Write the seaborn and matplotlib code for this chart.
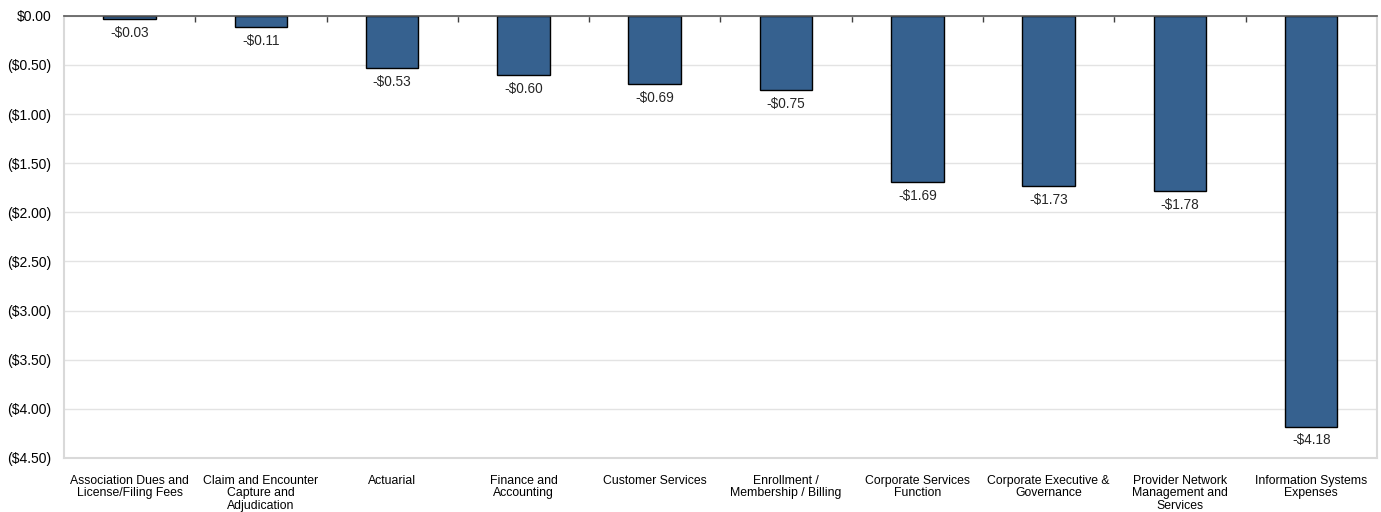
import matplotlib
matplotlib.use("Agg")
import matplotlib.pyplot as plt
from matplotlib.ticker import FixedLocator, FuncFormatter
import seaborn as sns
import pandas as pd

categories = [
    "Association Dues and\nLicense/Filing Fees",
    "Claim and Encounter\nCapture and\nAdjudication",
    "Actuarial",
    "Finance and\nAccounting",
    "Customer Services",
    "Enrollment /\nMembership / Billing",
    "Corporate Services\nFunction",
    "Corporate Executive &\nGovernance",
    "Provider Network\nManagement and\nServices",
    "Information Systems\nExpenses",
]
values = [-0.03, -0.11, -0.53, -0.60, -0.69, -0.75, -1.69, -1.73, -1.78, -4.18]
yticks = [0.0, -0.5, -1.0, -1.5, -2.0, -2.5, -3.0, -3.5, -4.0, -4.5]

sns.set_theme(style="white")
plt.rcParams['font.family'] = ['Liberation Sans', 'DejaVu Sans']

df = pd.DataFrame({"cat": categories, "val": values})
fig = plt.figure(figsize=(13.81, 5.12), dpi=100)
ax = fig.add_axes([0.0463, 0.1055, 0.9507, 0.8635])

sns.barplot(data=df, x="cat", y="val", color="#36618F", saturation=1,
            width=0.4, edgecolor="black", linewidth=1.0, ax=ax, zorder=3)

ax.set_ylim(-4.5, 0)
ax.set_xlim(-0.5, len(categories) - 0.5)
ax.yaxis.set_major_locator(FixedLocator(yticks))

def fmt(v, pos):
    if abs(v) < 1e-9:
        return "$0.00"
    return "(${:.2f})".format(abs(v)) if v < 0 else "${:.2f}".format(v)

ax.yaxis.set_major_formatter(FuncFormatter(fmt))
ax.grid(axis="y", color="#E3E3E3", linewidth=1.0, zorder=0)
ax.set_xlabel("")
ax.set_ylabel("")
ax.tick_params(axis="y", labelsize=10, length=0, pad=9, colors="black")
ax.tick_params(axis="x", which="major", labelsize=8.8, length=0, pad=12, colors="black")
for lbl in ax.get_xticklabels():
    lbl.set_linespacing(1.05)
ax.xaxis.set_minor_locator(FixedLocator([i + 0.5 for i in range(len(categories) - 1)]))
ax.tick_params(axis="x", which="minor", top=True, bottom=False, direction="in",
               length=4, color="#404040", width=1)

for side in ["left", "right", "bottom"]:
    ax.spines[side].set_color("#D9D9D9")
    ax.spines[side].set_linewidth(1.5)
ax.spines["top"].set_color("#595959")
ax.spines["top"].set_linewidth(1.2)
ax.spines["top"].set_zorder(5)

for i, v in enumerate(values):
    ax.annotate("-${:.2f}".format(abs(v)), (i, v), xytext=(0, -5),
                textcoords="offset points", ha="center", va="top", fontsize=9.8)

fig.savefig("out.png", dpi=100)
